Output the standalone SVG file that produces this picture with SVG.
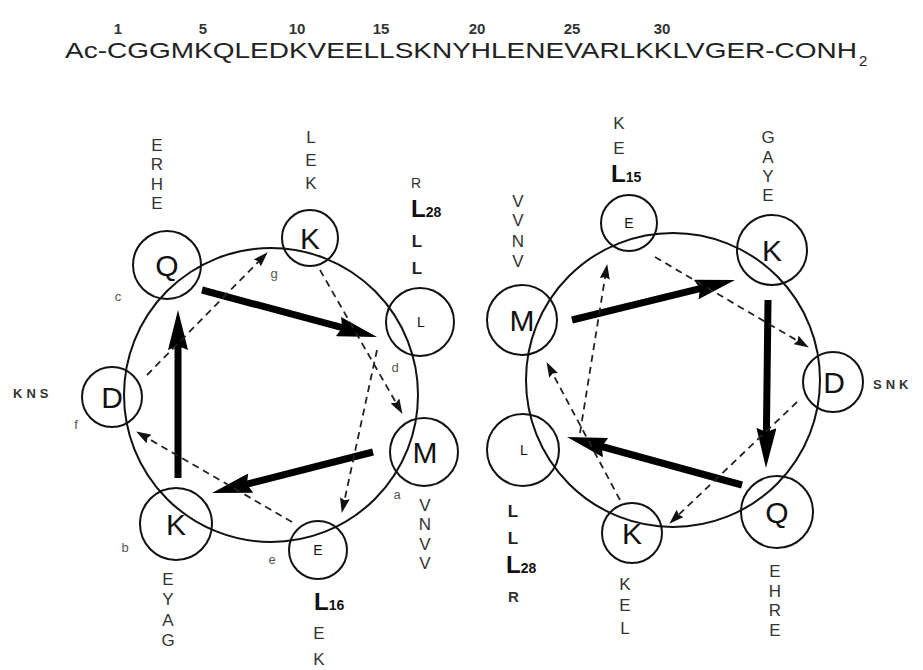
<svg xmlns="http://www.w3.org/2000/svg" width="923" height="670" viewBox="0 0 923 670">
  <style>
    text { font-family: "Liberation Sans", Arial, sans-serif; fill: #111; }
    .seq { font-size: 22px; fill: #222; }
    .num { font-size: 15px; font-weight: bold; fill: #333; text-anchor: middle; }
    .res { fill: none; stroke: #111; stroke-width: 2; }
    .wheel { fill: none; stroke: #111; stroke-width: 2; }
    .big { font-size: 30px; text-anchor: middle; }
    .small { font-size: 14px; text-anchor: middle; }
    .col { font-size: 17px; text-anchor: middle; fill: #333; }
    .col2 { font-size: 17px; font-weight: bold; text-anchor: middle; fill: #222; }
    .side { font-size: 13px; font-weight: bold; fill: #333; letter-spacing: 4px; }
    .pos { font-size: 13px; fill: #555; text-anchor: middle; }
    .lbig { font-size: 24px; font-weight: bold; }
    .lsub { font-size: 14px; font-weight: bold; }
    .thick { stroke: #000; stroke-width: 7; fill: none; marker-end: url(#headBig); }
    .dash { stroke: #222; stroke-width: 1.8; fill: none; stroke-dasharray: 7 5; marker-end: url(#headSmall); }
  </style>
  <defs>
    <marker id="headBig" markerUnits="userSpaceOnUse" viewBox="0 0 40 20" refX="6" refY="10" markerWidth="40" markerHeight="20" orient="auto">
      <path d="M0,0 L40,10 L0,20 L4,10 Z" fill="#000"/>
    </marker>
    <marker id="headSmall" markerUnits="userSpaceOnUse" viewBox="0 0 15 10" refX="3" refY="5" markerWidth="15" markerHeight="10" orient="auto">
      <path d="M0,0 L15,5 L0,10 L2,5 Z" fill="#111"/>
    </marker>
  </defs>

  <!-- peptide sequence with residue numbering -->
  <g id="sequence">
    <text class="seq" x="65" y="58" textLength="792" lengthAdjust="spacingAndGlyphs">Ac-CGGMKQLEDKVEELLSKNYHLENEVARLKKLVGER-CONH</text>
    <text x="859" y="66" style="font-size:15px;fill:#222">2</text>
    <text class="num" x="118" y="34">1</text>
    <text class="num" x="203" y="34">5</text>
    <text class="num" x="297" y="34">10</text>
    <text class="num" x="381" y="34">15</text>
    <text class="num" x="477" y="34">20</text>
    <text class="num" x="572" y="34">25</text>
    <text class="num" x="662" y="34">30</text>
  </g>

  <!-- helical wheel backbones -->
  <g id="wheels">
    <circle class="wheel" cx="271" cy="395" r="147"/>
    <circle class="wheel" cx="673" cy="380" r="147"/>
  </g>

  <!-- left wheel residues -->
  <g id="left-c-Q">
    <circle class="res" cx="167" cy="265" r="34"/>
    <text class="big" x="167" y="276">Q</text>
    <text class="pos" x="118" y="301">c</text>
    <text class="col"><tspan x="157" y="151">E</tspan><tspan x="157" y="170">R</tspan><tspan x="157" y="190">H</tspan><tspan x="157" y="209">E</tspan></text>
  </g>
  <g id="left-g-K">
    <circle class="res" cx="310" cy="238" r="28"/>
    <text class="big" x="310" y="249">K</text>
    <text class="pos" x="274" y="278">g</text>
    <text class="col"><tspan x="311" y="143">L</tspan><tspan x="311" y="166">E</tspan><tspan x="311" y="189">K</tspan></text>
  </g>
  <g id="left-d-L">
    <circle class="res" cx="420" cy="322" r="34"/>
    <text class="small" x="421" y="327">L</text>
    <text class="pos" x="395" y="372">d</text>
    <text style="font-size:14px;fill:#333" x="411" y="188">R</text>
    <text x="411" y="217"><tspan class="lbig">L</tspan><tspan class="lsub">28</tspan></text>
    <text class="col2"><tspan x="417" y="247">L</tspan><tspan x="417" y="274">L</tspan></text>
  </g>
  <g id="left-a-M">
    <circle class="res" cx="424" cy="452" r="34"/>
    <text class="big" x="425" y="463">M</text>
    <text class="pos" x="397" y="499">a</text>
    <text class="col"><tspan x="425" y="511">V</tspan><tspan x="425" y="530">N</tspan><tspan x="425" y="550">V</tspan><tspan x="425" y="569">V</tspan></text>
  </g>
  <g id="left-e-E">
    <circle class="res" cx="318" cy="550" r="29"/>
    <text class="small" x="318" y="555">E</text>
    <text class="pos" x="272" y="564">e</text>
    <text x="314" y="610"><tspan class="lbig">L</tspan><tspan class="lsub">16</tspan></text>
    <text class="col"><tspan x="319" y="639">E</tspan><tspan x="319" y="665">K</tspan></text>
  </g>
  <g id="left-b-K">
    <circle class="res" cx="176" cy="524" r="36"/>
    <text class="big" x="176" y="535">K</text>
    <text class="pos" x="125" y="552">b</text>
    <text class="col"><tspan x="168" y="585">E</tspan><tspan x="168" y="605">Y</tspan><tspan x="168" y="626">A</tspan><tspan x="168" y="646">G</tspan></text>
  </g>
  <g id="left-f-D">
    <circle class="res" cx="112" cy="397" r="30"/>
    <text class="big" x="112" y="408">D</text>
    <text class="pos" x="76" y="429">f</text>
    <text class="side" x="13" y="398">KNS</text>
  </g>

  <!-- right wheel residues -->
  <g id="right-M">
    <circle class="res" cx="522" cy="320" r="35"/>
    <text class="big" x="522" y="331">M</text>
    <text class="col"><tspan x="518" y="207">V</tspan><tspan x="518" y="226">V</tspan><tspan x="518" y="247">N</tspan><tspan x="518" y="267">V</tspan></text>
  </g>
  <g id="right-E">
    <circle class="res" cx="629" cy="223" r="28"/>
    <text class="small" x="629" y="228">E</text>
    <text class="col"><tspan x="619" y="129">K</tspan><tspan x="619" y="154">E</tspan></text>
    <text x="611" y="182"><tspan class="lbig">L</tspan><tspan class="lsub">15</tspan></text>
  </g>
  <g id="right-K-top">
    <circle class="res" cx="772" cy="250" r="35"/>
    <text class="big" x="772" y="261">K</text>
    <text class="col"><tspan x="768" y="143">G</tspan><tspan x="768" y="163">A</tspan><tspan x="768" y="182">Y</tspan><tspan x="768" y="201">E</tspan></text>
  </g>
  <g id="right-D">
    <circle class="res" cx="833" cy="382" r="30"/>
    <text class="big" x="834" y="393">D</text>
    <text class="side" x="873" y="389">SNK</text>
  </g>
  <g id="right-Q">
    <circle class="res" cx="777" cy="512" r="36"/>
    <text class="big" x="777" y="523">Q</text>
    <text class="col"><tspan x="775" y="577">E</tspan><tspan x="775" y="597">H</tspan><tspan x="775" y="616">R</tspan><tspan x="775" y="636">E</tspan></text>
  </g>
  <g id="right-K-bottom">
    <circle class="res" cx="632" cy="533" r="30"/>
    <text class="big" x="632" y="544">K</text>
    <text class="col"><tspan x="625" y="590">K</tspan><tspan x="625" y="611">E</tspan><tspan x="625" y="634">L</tspan></text>
  </g>
  <g id="right-L">
    <circle class="res" cx="523" cy="450" r="36"/>
    <text class="small" x="524" y="455">L</text>
    <text class="col2"><tspan x="513" y="517">L</tspan><tspan x="513" y="544">L</tspan></text>
    <text x="506" y="573"><tspan class="lbig">L</tspan><tspan class="lsub">28</tspan></text>
    <text style="font-size:15px;font-weight:bold;fill:#333" x="508" y="602">R</text>
  </g>

  <!-- connectors: heptad order, solid for the front face, dashed behind -->
  <g id="connectors">
    <line class="thick" x1="202" y1="290" x2="344.2" y2="328.2"/>
    <line class="thick" x1="373" y1="452" x2="244.9" y2="484.6"/>
    <line class="thick" x1="178" y1="478" x2="178" y2="344"/>
    <line class="dash" x1="377" y1="350" x2="344.3" y2="501.2"/>
    <line class="dash" x1="292" y1="522" x2="146.5" y2="437.5"/>
    <line class="dash" x1="147" y1="375" x2="259.3" y2="260.8"/>
    <line class="dash" x1="320" y1="270" x2="396.5" y2="403.5"/>

    <line class="thick" x1="572" y1="320" x2="702" y2="288.1"/>
    <line class="thick" x1="768" y1="300" x2="766.4" y2="434"/>
    <line class="thick" x1="742" y1="485" x2="599.8" y2="446"/>
    <line class="dash" x1="580" y1="433" x2="605.3" y2="275.9"/>
    <line class="dash" x1="655" y1="257" x2="798.5" y2="341.4"/>
    <line class="dash" x1="797" y1="402" x2="678" y2="515.4"/>
    <line class="dash" x1="620" y1="500" x2="552.2" y2="372.7"/>
  </g>
</svg>
